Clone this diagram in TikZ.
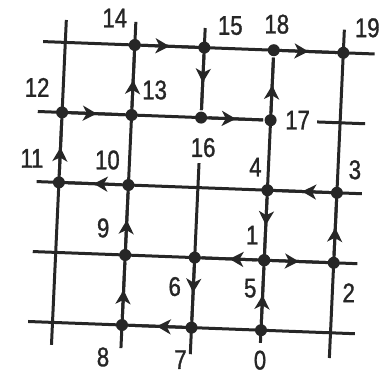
\documentclass[tikz,border=0pt]{standalone}
\usepackage{fontspec}
\setmainfont{Liberation Sans}[FakeStretch=0.82, FakeBold=1.2]
\usetikzlibrary{arrows.meta,decorations.markings}

\tikzset{
  dot/.style={circle, fill, inner sep=0pt, minimum size=12pt},
  num/.style={font=\fontsize{27}{27}\selectfont, inner sep=0pt},
  mid arrow/.style={postaction={decorate},
    decoration={markings, mark=at position 0.5 with {\arrow{Stealth[length=14pt,width=15pt,inset=4pt]}}}},
}

\begin{document}
\begin{tikzpicture}[x=1pt, y=1pt, line width=3pt, black!85]
    \useasboundingbox (0,0) rectangle (388,376);

    % slightly skewed lattice, as in the scan
    \begin{scope}[shift={(52.5pt,53.6pt)}, x={(69.5pt,-2.6pt)}, y={(3.2pt,70pt)}]

    % lattice points with their numbers
    \foreach \n/\i/\j/\dx/\dy in {
        0/3/0/-1/-30, 1/3/1/-12/25, 2/4/1/15/-30, 3/4/2/18/23, 4/3/2/-12/23,
        5/3/1/-14/-28, 6/2/1/-20/-29, 7/2/0/-11/-32, 8/1/0/-19/-32, 9/1/1/-22/27,
        10/1/2/-21/25, 11/0/2/-27/24, 12/0/3/-25/25, 13/1/3/23/25, 14/1/4/-20/27,
        15/2/4/26/22, 16/2/3/2/-30, 17/3/3/27/0, 18/3/4/3/26, 19/4/4/24/25} {
        \node[dot] (n\n) at (\i,\j) {};
        \node[num] (l\n) at ([xshift=\dx pt, yshift=\dy pt]n\n) {\n};
    }

    % vertical lines
    \coordinate (vt1) at (0,4.32);  \coordinate (vb1) at (0,-0.32);
    \coordinate (vt2) at (1,4.33);  \coordinate (vb2) at (1,-0.33);
    \coordinate (vt3) at (2,4.28);  \coordinate (vm3) at (2,2.35);
    \coordinate (vb3) at (2,-0.38); \coordinate (vb4) at (3,-0.18);
    \coordinate (vt5) at (4,4.33);  \coordinate (vb5) at (4,-0.36);
    \draw (vt1) -- (vb1);
    \draw (vt2) -- (vb2);
    \draw (vt3) -- (n16);
    \draw (vm3) -- (vb3);
    \draw (n18) -- (vb4);
    \draw (vt5) -- (vb5);

    % horizontal lines
    \foreach \j/\l/\r in {4/-0.32/4.45, 2/-0.32/4.36, 1/-0.33/4.34, 0/-0.35/4.35} {
        \coordinate (hl\j) at (\l,\j);
        \coordinate (hr\j) at (\r,\j);
        \draw (hl\j) -- (hr\j);
    }
    \coordinate (hl3) at (-0.35,3);
    \coordinate (ha3) at (3.67,3);
    \coordinate (hr3) at (4.36,3);
    \draw (hl3) -- (n17);
    \draw (ha3) -- (hr3);

    % the walk 0 -> 19
    \foreach \a [count=\b from 1] in {0,...,18}
        \draw[mid arrow] (n\a) -- (n\b);

    \end{scope}
\end{tikzpicture}
\end{document}
